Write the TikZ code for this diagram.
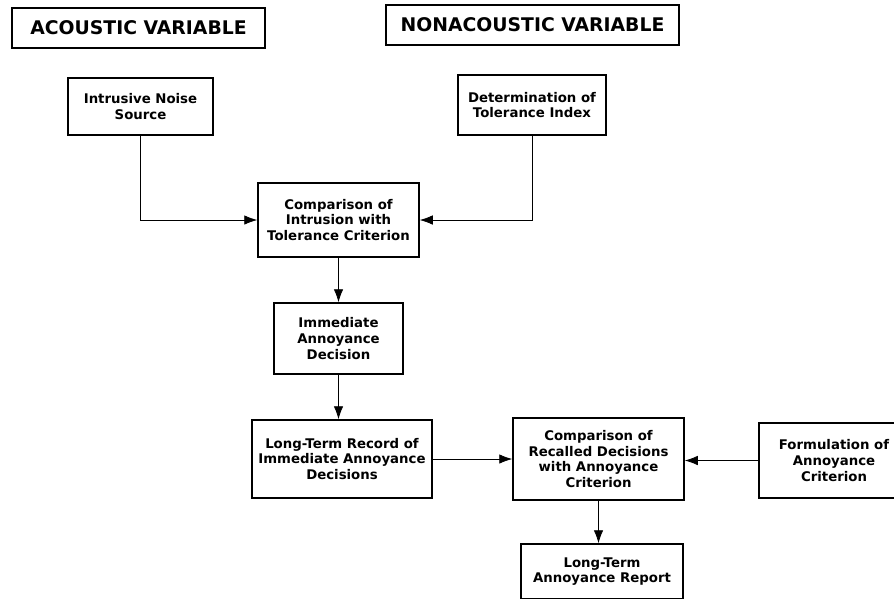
\documentclass[tikz,border=0pt]{standalone}
\usepackage{fontspec}
\setmainfont{DejaVu Sans}
\usetikzlibrary{arrows.meta}
\begin{document}
\begin{tikzpicture}[x=1pt,y=-1pt,
  box/.style={draw, line width=1.5pt, align=center, inner sep=0pt,
    font=\bfseries\fontsize{13.3}{15.7}\selectfont},
  hdr/.style={draw, line width=1.5pt, inner sep=0pt,
    font=\bfseries\fontsize{18.8}{20}\selectfont},
  conn/.style={line width=0.8pt, -{Latex[length=13pt,width=9.5pt]}}]
\useasboundingbox (0,0) rectangle (894,598);
% headers
\node[hdr, minimum width=253pt, minimum height=40pt] (hdrA) at (138.5,28) {ACOUSTIC VARIABLE};
\node[hdr, minimum width=293pt, minimum height=40pt] (hdrN) at (532.5,25) {NONACOUSTIC VARIABLE};
% boxes
\node[box, minimum width=145pt, minimum height=57pt] (ins) at (140.5,106.5) {Intrusive Noise\\Source};
\node[box, minimum width=148pt, minimum height=60pt] (det) at (532,105) {Determination of\\Tolerance Index};
\node[box, minimum width=161pt, minimum height=74pt] (cmp1) at (338.5,220) {Comparison of\\Intrusion with\\Tolerance Criterion};
\node[box, minimum width=129pt, minimum height=71pt] (imm) at (338.5,338.5) {Immediate\\Annoyance\\Decision};
\node[box, minimum width=180pt, minimum height=78pt] (ltr) at (342,459) {Long-Term Record of\\Immediate Annoyance\\Decisions};
\node[box, minimum width=171pt, minimum height=82pt] (cmp2) at (598.5,459) {Comparison of\\Recalled Decisions\\with Annoyance\\Criterion};
\node[box, minimum width=150pt, minimum height=75pt] (form) at (834,460.5) {Formulation of\\Annoyance\\Criterion};
\node[box, minimum width=162pt, minimum height=55pt] (ltar) at (602,571.5) {Long-Term\\Annoyance Report};
% connectors
\draw[conn] (ins.south) |- (cmp1.west);
\draw[conn] (det.south) |- (cmp1.east);
\draw[conn] (cmp1.south) -- (imm.north);
\draw[conn] (imm.south) -- (imm.south |- ltr.north);
\draw[conn] (ltr.east) -- (ltr.east -| cmp2.west);
\draw[conn] (form.west) -- (form.west -| cmp2.east);
\draw[conn] (cmp2.south) -- (cmp2.south |- ltar.north);
\end{tikzpicture}
\end{document}
